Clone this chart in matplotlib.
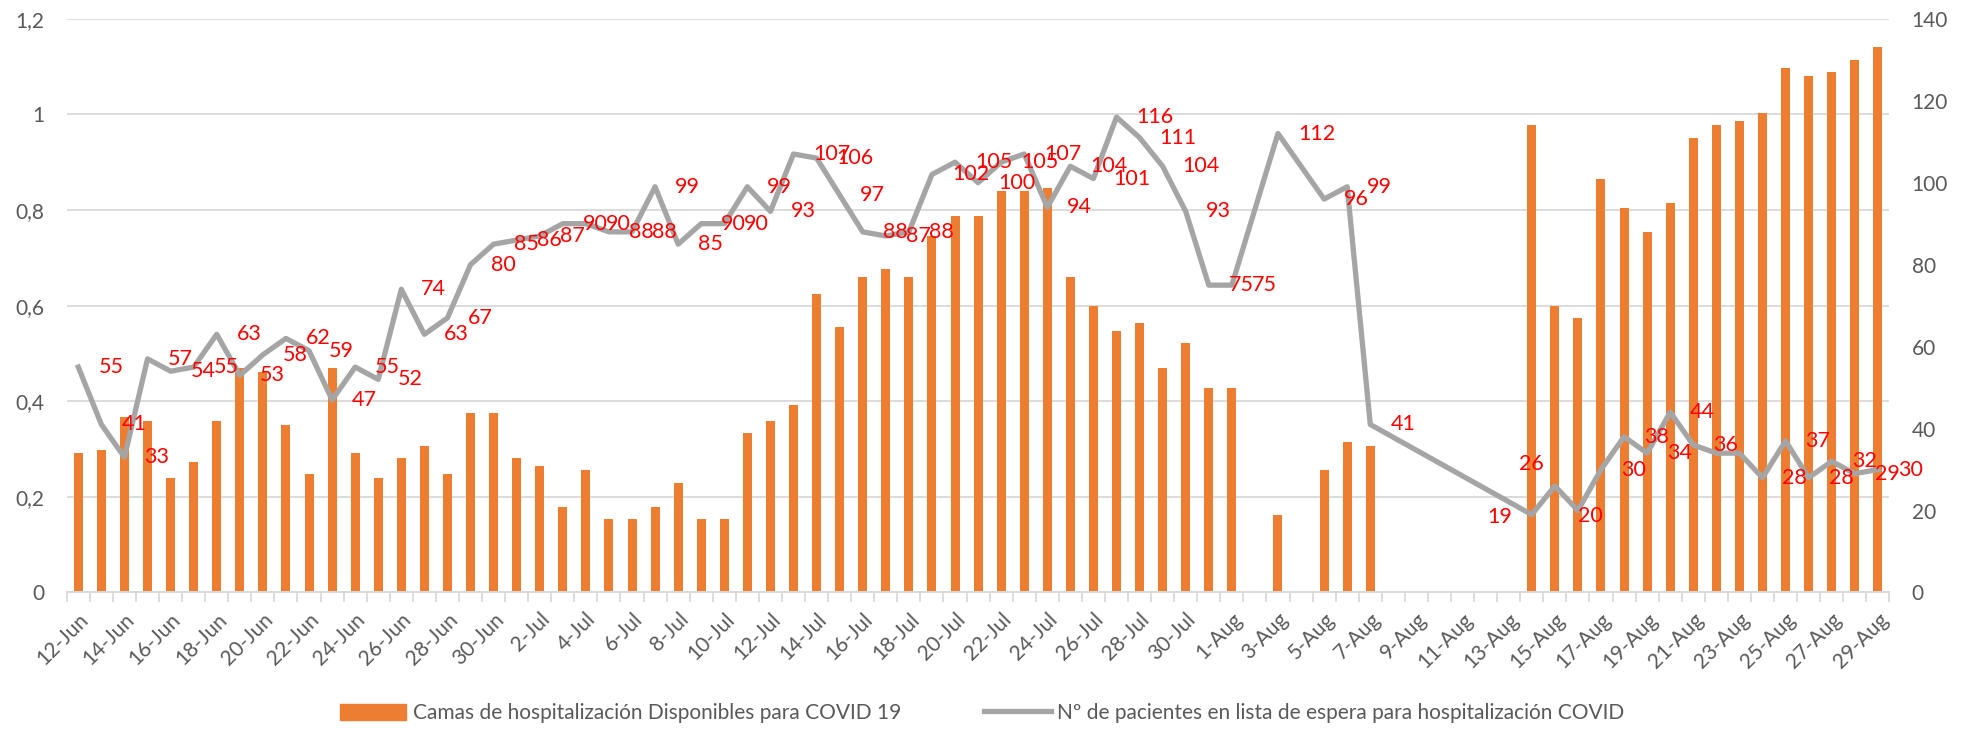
import numpy as np
import pandas as pd
import matplotlib
matplotlib.use("Agg")
import matplotlib.pyplot as plt
from matplotlib.ticker import FixedLocator, FuncFormatter
from matplotlib.patches import Patch
from matplotlib.lines import Line2D

plt.rcParams['font.family'] = ['Lato', 'DejaVu Sans']

# Fechas (12-Jun a 29-Aug)
fechas = pd.date_range("2020-06-12", "2020-08-29", freq="D")
etiquetas = [f"{d.day}-{d.strftime('%b')}" for d in fechas]

# Camas disponibles (eje izquierdo), None = sin dato
camas = [0.291, 0.299, 0.367, 0.358, 0.239, 0.272, 0.358, 0.470, 0.461, 0.351,
         0.248, 0.470, 0.291, 0.239, 0.282, 0.307, 0.248, 0.375, 0.375, 0.282,
         0.265, 0.179, 0.256, 0.153, 0.153, 0.179, 0.230, 0.153, 0.153, 0.334,
         0.358, 0.393, 0.625, 0.556, 0.659, 0.677, 0.659, 0.746, 0.787,
         0.787, 0.840, 0.840, 0.847, 0.659, 0.599, 0.547, 0.563, 0.470, 0.522,
         0.428, 0.428,
         None, 0.162, None, 0.256, 0.315, 0.307,
         None, None, None, None, None, None,
         0.977, 0.599, 0.574, 0.865, 0.805, 0.754, 0.814, 0.951, 0.977, 0.986,
         1.002, 1.097, 1.080, 1.088, 1.114, 1.140]

# Pacientes en lista de espera (eje derecho)
espera = [55, 41, 33, 57, 54, 55, 63, 53, 58, 62, 59, 47, 55, 52, 74, 63, 67, 80, 85, 86,
          87, 90, 90, 88, 88, 99, 85, 90, 90, 99, 93, 107, 106, 97, 88, 87, 88, 102, 105,
          100, 105, 107, 94, 104, 101, 116, 111, 104, 93, 75, 75,
          None, 112, None, 96, 99, 41,
          None, None, None, None, None, None,
          19, 26, 20, 30, 38, 34, 44, 36, 34, 34, 28, 37, 28, 32, 29, 30]

# etiquetas que no aparecen en el original
sin_etiqueta = {71, 72}
# etiquetas movidas a mano (dx, dy en pixeles, centradas)
movidas = {63: (-32, -2), 64: (-23, 22), 65: (12, -5)}

x = np.arange(len(etiquetas))
camas_arr = np.array([np.nan if v is None else v for v in camas])
espera_arr = np.array([np.nan if v is None else v for v in espera], dtype=float)

fig = plt.figure(figsize=(19.64, 7.33), dpi=100)
ax = fig.add_axes([0.034, 0.1917, 0.928, 0.7827])
ax2 = ax.twinx()

gris = '#595959'
ax.bar(x, camas_arr, width=0.39, color='#ED7D31', zorder=2)
ax.set_ylim(0, 1.2)
ax.set_xlim(-0.5, len(x) - 0.5)
ax.set_yticks(np.arange(0, 1.21, 0.2))
ax.yaxis.set_major_formatter(FuncFormatter(lambda v, p: f"{v:.1f}".rstrip('0').rstrip('.').replace('.', ',')))
ax.grid(axis='y', color='#D9D9D9', linewidth=1.3, zorder=0)
ax.set_axisbelow(True)

ok = ~np.isnan(espera_arr)
ax2.plot(x[ok], espera_arr[ok], color='#A5A5A5', linewidth=3.8, zorder=3)
ax2.set_ylim(0, 140)
ax2.set_yticks(np.arange(0, 141, 20))

for i in np.where(ok)[0]:
    if i in sin_etiqueta:
        continue
    txt = str(int(espera_arr[i]))
    if i in movidas:
        dx, dy = movidas[i]
        ax2.annotate(txt, (x[i], espera_arr[i]), xytext=(dx, dy), textcoords='offset pixels',
                     ha='center', va='center', color='red', fontsize=15.5, zorder=5)
    else:
        ax2.annotate(txt, (x[i], espera_arr[i]), xytext=(20, 0), textcoords='offset pixels',
                     ha='left', va='center', color='red', fontsize=15.5, zorder=5)

# eje x
ax.set_xticks(x[::2])
ax.set_xticklabels(etiquetas[::2], rotation=45, ha='right', rotation_mode='anchor')
ax.xaxis.set_minor_locator(FixedLocator(np.arange(-0.5, len(x), 1)))
ax.tick_params(axis='x', which='major', length=0, pad=12, labelsize=15, labelcolor=gris)
ax.tick_params(axis='x', which='minor', length=7, color='#D9D9D9', width=1.3)
ax.tick_params(axis='y', length=0, labelsize=15, labelcolor=gris, pad=16)
ax2.tick_params(axis='y', length=0, labelsize=15, labelcolor=gris, pad=16)

for a in (ax, ax2):
    for s in ('top', 'left', 'right'):
        a.spines[s].set_visible(False)
    a.spines['bottom'].set_color('#D9D9D9')
    a.spines['bottom'].set_linewidth(1.3)

handles = [Patch(color='#ED7D31'),
           Line2D([], [], color='#A5A5A5', linewidth=3.8)]
labels = ['Camas de hospitalización Disponibles para COVID 19',
          'Nº de pacientes en lista de espera para hospitalización COVID']
fig.legend(handles, labels, loc='lower center', bbox_to_anchor=(0.5, -0.012), ncol=2,
           frameon=False, fontsize=15, labelcolor=gris, columnspacing=4,
           handlelength=3.2, handleheight=0.8, handletextpad=0.3)

fig.savefig('out.png', dpi=100)
